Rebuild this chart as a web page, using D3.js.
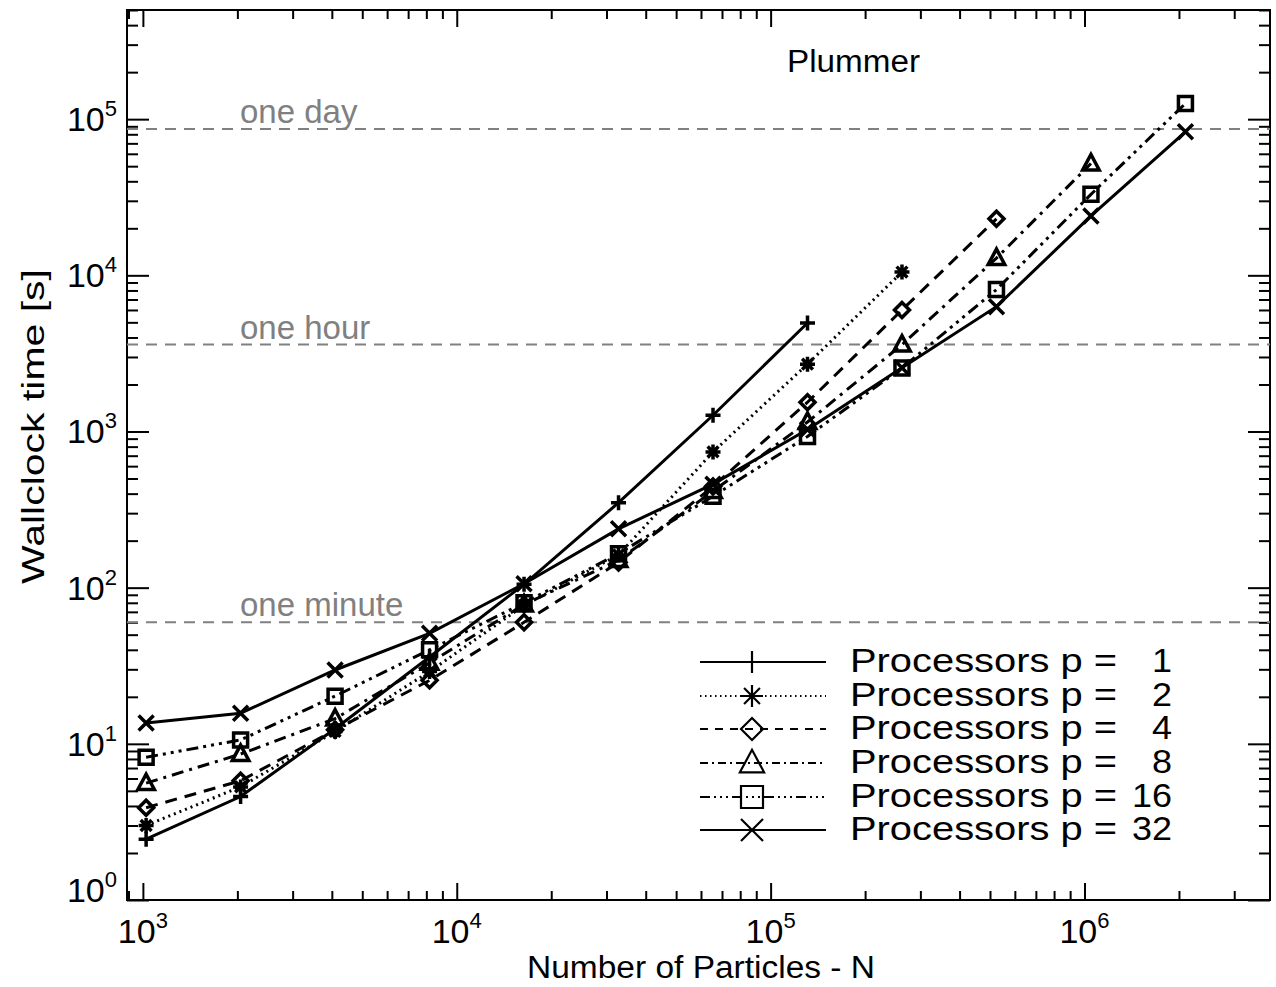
<!DOCTYPE html>
<html>
<head>
<meta charset="utf-8">
<script src="https://cdn.jsdelivr.net/npm/d3@7"></script>
<style>
  body { margin: 0; background: #fff; }
  svg { display: block; }
  text { font-family: "Liberation Sans", Arial, Helvetica, sans-serif; }
</style>
</head>
<body>
<div id="chart"></div>
<script>
// number of particles, N = 2^10 ... 2^21
const particles = [1024, 2048, 4096, 8192, 16384, 32768, 65536, 131072, 262144, 524288, 1048576, 2097152];

// wallclock time [s] for each processor count
const p1  = [2.45, 4.6, 12.5, 36, 105, 350, 1270, 4950];
const p2  = [3.0, 5.3, 12.0, 29, 77, 162, 740, 2700, 10500];
const p4  = [3.9, 5.8, 12.3, 25.5, 60, 145, 445, 1540, 6000, 23000];
const p8  = [5.6, 8.6, 14.5, 33, 78, 150, 415, 1150, 3600, 12900, 52000];
const p16 = [8.2, 10.6, 20.2, 40, 80, 165, 385, 930, 2550, 8100, 33000, 126000];
const p32 = [13.6, 15.7, 29.7, 51, 106, 238, 460, 1030, 2560, 6300, 24000, 83000];

const procs = [1, 2, 4, 8, 16, 32];
const seriesValues = [p1, p2, p4, p8, p16, p32];

// reference lines
const refLabels = ["one day", "one hour", "one minute"];
const refValues = [86400, 3600, 60];

const xDecades = [1e3, 1e4, 1e5, 1e6];
const yDecades = [1e0, 1e1, 1e2, 1e3, 1e4, 1e5];

const width = 1276, height = 987;
const plotLeft = 127, plotRight = 1270, plotTop = 10, plotBottom = 900;

const svg = d3.select("#chart").append("svg")
    .attr("width", width)
    .attr("height", height);

const x = d3.scaleLog().domain([890, 3.9e6]).range([plotLeft, plotRight]);
const y = d3.scaleLog().domain([1, 5e5]).range([plotBottom, plotTop]);

// minor tick values
const minor = (dom, lo, hi) => {
  let out = [];
  for (let e = lo; e <= hi; e++)
    for (let m = 2; m <= 9; m++) {
      let v = m * Math.pow(10, e);
      if (v >= dom[0] && v <= dom[1]) out.push(v);
    }
  return out;
};
const xMinor = minor(x.domain(), 2, 6);
const yMinor = minor(y.domain(), 0, 5);

// axes with inward ticks on all four sides
const axisG = svg.append("g");
const addAxis = (axisFn, scale, vals, size, transform) => {
  axisG.append("g")
      .attr("transform", transform)
      .call(axisFn(scale).tickValues(vals).tickSize(size).tickFormat(""))
      .call(g => g.select(".domain").remove())
      .call(g => g.selectAll("line").attr("stroke", "#000").attr("stroke-width", 2));
};
addAxis(d3.axisBottom, x, xDecades, -17, `translate(0,${plotBottom})`);
addAxis(d3.axisBottom, x, xMinor, -9, `translate(0,${plotBottom})`);
addAxis(d3.axisTop, x, xDecades, -17, `translate(0,${plotTop})`);
addAxis(d3.axisTop, x, xMinor, -9, `translate(0,${plotTop})`);
addAxis(d3.axisLeft, y, yDecades, -22, `translate(${plotLeft},0)`);
addAxis(d3.axisLeft, y, yMinor, -11, `translate(${plotLeft},0)`);
addAxis(d3.axisRight, y, yDecades, -22, `translate(${plotRight},0)`);
addAxis(d3.axisRight, y, yMinor, -11, `translate(${plotRight},0)`);

svg.append("rect")
    .attr("x", plotLeft).attr("y", plotTop)
    .attr("width", plotRight - plotLeft).attr("height", plotBottom - plotTop)
    .attr("fill", "none").attr("stroke", "#000").attr("stroke-width", 2);

// tick labels as 10^n
const powLabel = (sel, n) => {
  sel.append("tspan").text("10");
  sel.append("tspan").attr("font-size", 22).attr("dy", -15).text(n);
};
xDecades.forEach(v => {
  svg.append("text")
      .attr("x", x(v)).attr("y", 943)
      .attr("text-anchor", "middle")
      .attr("font-size", 34)
      .call(powLabel, Math.round(Math.log10(v)));
});
yDecades.forEach(v => {
  svg.append("text")
      .attr("x", 117).attr("y", y(v) + (v == 1 ? 2 : 12))
      .attr("text-anchor", "end")
      .attr("font-size", 34)
      .call(powLabel, Math.round(Math.log10(v)));
});

// axis titles
svg.append("text")
    .attr("x", 527).attr("y", 978)
    .attr("font-size", 31)
    .attr("textLength", 348)
    .attr("lengthAdjust", "spacingAndGlyphs")
    .text("Number of Particles - N");
svg.append("text")
    .attr("transform", `translate(44,584) rotate(-90)`)
    .attr("font-size", 32)
    .attr("textLength", 315)
    .attr("lengthAdjust", "spacingAndGlyphs")
    .text("Wallclock time [s]");

svg.append("text")
    .attr("x", 787).attr("y", 72)
    .attr("font-size", 31)
    .attr("textLength", 133)
    .attr("lengthAdjust", "spacingAndGlyphs")
    .text("Plummer");

// dashed reference lines
refValues.forEach((v, i) => {
  svg.append("line")
      .attr("x1", plotLeft).attr("x2", plotRight)
      .attr("y1", y(v)).attr("y2", y(v))
      .attr("stroke", "#808080").attr("stroke-width", 2)
      .attr("stroke-dasharray", "11,8");
  svg.append("text")
      .attr("x", 240).attr("y", y(v) - 6)
      .attr("fill", "#808080")
      .attr("font-size", 33)
      .text(refLabels[i]);
});

// line styles per processor count
const dashes = ["none", "2,4", "12,8", "12,6,3,6", "12,5,3,5,3,5,3,5", "none"];
const legendDashes = ["none", "1.5,3.5", "8,7", "8,4,2,4", "10,4,2,4,2,4,2,4", "none"];
const markers = ["plus", "star", "diamond", "triangle", "square", "cross"];

const markerPath = (type, s) => {
  switch (type) {
    case "plus": return `M${-s},0H${s}M0,${-s}V${s}`;
    case "cross": return `M${-s},${-s}L${s},${s}M${-s},${s}L${s},${-s}`;
    case "star": {
      const d = s * 0.72;
      return `M${-s},0H${s}M0,${-s}V${s}M${-d},${-d}L${d},${d}M${-d},${d}L${d},${-d}`;
    }
    case "diamond": return `M0,${-s}L${s},0L0,${s}L${-s},0Z`;
    case "triangle": return `M${-s * 1.1},${s * 0.85}L0,${-s * 1.2}L${s * 1.1},${s * 0.85}Z`;
    case "square": return `M${-s},${-s}H${s}V${s}H${-s}Z`;
  }
};

const line = d3.line()
    .x(d => x(d[0]))
    .y(d => y(d[1]));

const plot = svg.append("g");
seriesValues.forEach((vals, i) => {
  const pts = vals.map((v, j) => [particles[j], v]);
  plot.append("path")
      .datum(pts)
      .attr("d", line)
      .attr("fill", "none")
      .attr("stroke", "#000")
      .attr("stroke-width", 3)
      .attr("stroke-dasharray", dashes[i]);
  plot.selectAll(null)
      .data(pts)
      .enter()
      .append("path")
      .attr("transform", d => `translate(${x(d[0])},${y(d[1])})`)
      .attr("d", markerPath(markers[i], markers[i] == "square" ? 7 : 7.5))
      .attr("fill", "none")
      .attr("stroke", "#000")
      .attr("stroke-width", 3.5);
});

// legend
const legend = svg.append("g");
const rowY = [662, 696, 729, 763, 797, 830];
procs.forEach((p, i) => {
  const ly = rowY[i];
  legend.append("line")
      .attr("x1", 700).attr("x2", 826)
      .attr("y1", ly).attr("y2", ly)
      .attr("stroke", "#000").attr("stroke-width", 2)
      .attr("stroke-dasharray", legendDashes[i]);
  legend.append("path")
      .attr("transform", `translate(752,${ly})`)
      .attr("d", markerPath(markers[i], 11))
      .attr("fill", "none")
      .attr("stroke", "#000").attr("stroke-width", 2.2);
  legend.append("text")
      .attr("x", 850).attr("y", ly + 10)
      .attr("font-size", 33)
      .attr("textLength", 267)
      .attr("lengthAdjust", "spacingAndGlyphs")
      .text("Processors p =");
  legend.append("text")
      .attr("x", 1172).attr("y", ly + 10)
      .attr("text-anchor", "end")
      .attr("font-size", 33)
      .attr("textLength", p < 10 ? 20 : 40)
      .attr("lengthAdjust", "spacingAndGlyphs")
      .text(p);
});
</script>
</body>
</html>
